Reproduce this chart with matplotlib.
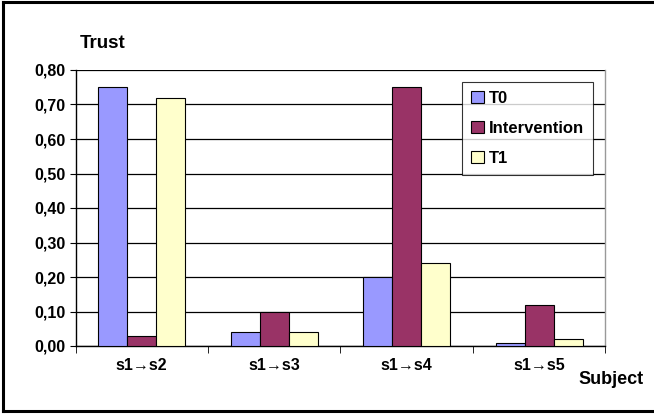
import numpy as np
import matplotlib.pyplot as plt
from matplotlib.lines import Line2D
from matplotlib.ticker import FixedLocator, FuncFormatter

plt.rcParams['font.family'] = ['Liberation Sans', 'DejaVu Sans']
plt.rcParams['font.weight'] = 'bold'

# Data
subjects = ['s1→s2', 's1→s3', 's1→s4', 's1→s5']
t0 = [0.75, 0.04, 0.20, 0.01]
intervention = [0.03, 0.10, 0.75, 0.12]
t1 = [0.72, 0.04, 0.24, 0.02]
series_names = ['T0', 'Intervention', 'T1']
colors = ['#9999FF', '#993366', '#FFFFCC']

fig = plt.figure(figsize=(6.54, 4.16), dpi=100)
ax = fig.add_axes([75.5/654, 1 - 346/416, 530/654, 276/416])

x = np.arange(len(subjects))
w = 0.219
for i, (vals, name, c) in enumerate(zip([t0, intervention, t1], series_names, colors)):
    ax.bar(x + (i - 1) * w, vals, w, color=c, edgecolor='black', linewidth=0.8,
           label=name, zorder=3)

ax.set_xlim(-0.5, len(subjects) - 0.5)
ax.set_ylim(0, 0.8)
ax.set_yticks(np.arange(0, 0.81, 0.1))
ax.yaxis.set_major_formatter(FuncFormatter(lambda v, p: f'{v:.2f}'.replace('.', ',')))
ax.yaxis.grid(True, color='black', linewidth=0.9, zorder=0)

ax.set_xticks(x)
ax.set_xticklabels(subjects, fontsize=11.5, fontweight='bold')
ax.xaxis.set_minor_locator(FixedLocator(np.arange(-0.5, len(subjects), 1.0)))
ax.tick_params(axis='x', which='major', length=0, pad=9)
ax.tick_params(axis='x', which='minor', length=5, direction='out', color='black')
ax.tick_params(axis='y', length=4, direction='out', labelsize=11.5, pad=3)
for lab in ax.get_yticklabels():
    lab.set_fontweight('bold')

ax.spines['top'].set_visible(False)
ax.spines['right'].set_color('#999999')
ax.spines['right'].set_linewidth(1.0)
ax.spines['left'].set_linewidth(1.0)
ax.spines['bottom'].set_linewidth(1.0)

fig.text(80/654, 1 - 44/416, 'Trust', fontsize=13.5, fontweight='bold', va='center', ha='left')
fig.text(578/654, 1 - 379/416, 'Subject', fontsize=13, fontweight='bold', va='center', ha='left')

leg = ax.legend(loc='upper left', bbox_to_anchor=((462 - 75.5) / 530, (346 - 82) / 276),
                fontsize=12, frameon=True, fancybox=False, edgecolor='black',
                borderpad=0.55, labelspacing=0.9, handlelength=0.75, handleheight=0.75,
                handletextpad=0.3, borderaxespad=0)
leg.get_frame().set_linewidth(0.8)
leg.set_zorder(5)
for t in leg.get_texts():
    t.set_fontweight('bold')

# outer frame: left, top and bottom only
L, T, B = 2.5/654, 1 - 1.5/416, 1 - 410.5/416
for xs, ys in [([L, L], [B, T]), ([L, 1.0], [T, T]), ([L, 1.0], [B, B])]:
    fig.add_artist(Line2D(xs, ys, transform=fig.transFigure, color='black', linewidth=2.2))

fig.savefig('out.png', dpi=100)
